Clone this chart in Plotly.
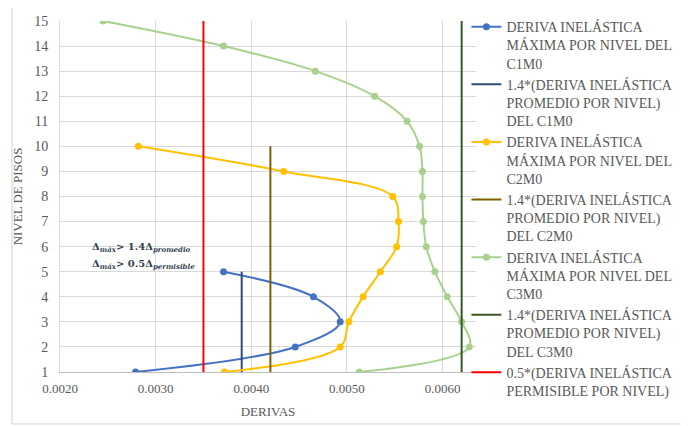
import plotly.graph_objects as go

niveles_c1 = [1, 2, 3, 4, 5]
deriva_c1 = [0.00279, 0.00446, 0.00493, 0.00465, 0.00371]
niveles_c2 = [1, 2, 3, 4, 5, 6, 7, 8, 9, 10]
deriva_c2 = [0.00372, 0.00493, 0.00502, 0.00517, 0.00535, 0.00552, 0.00554, 0.00548, 0.00434, 0.00282]
niveles_c3 = [1, 2, 3, 4, 5, 6, 7, 8, 9, 10, 11, 12, 13, 14, 15]
deriva_c3 = [0.00513, 0.00628, 0.00620, 0.00605, 0.00592, 0.00583, 0.00580, 0.00579, 0.00579, 0.00576,
             0.00563, 0.00529, 0.00467, 0.00371, 0.00245]

prom_c1 = 0.0039
prom_c2 = 0.0042
prom_c3 = 0.0062
permisible_05 = 0.0035

nombres = [
    "DERIVA INELÁSTICA<br>MÁXIMA POR NIVEL DEL<br>C1M0",
    "1.4*(DERIVA INELÁSTICA<br>PROMEDIO POR NIVEL)<br>DEL C1M0",
    "DERIVA INELÁSTICA<br>MÁXIMA POR NIVEL DEL<br>C2M0",
    "1.4*(DERIVA INELÁSTICA<br>PROMEDIO POR NIVEL)<br>DEL C2M0",
    "DERIVA INELÁSTICA<br>MÁXIMA POR NIVEL DEL<br>C3M0",
    "1.4*(DERIVA INELÁSTICA<br>PROMEDIO POR NIVEL)<br>DEL C3M0",
    "0.5*(DERIVA INELÁSTICA<br>PERMISIBLE POR NIVEL)",
]

SERIF = "Liberation Serif"

fig = go.Figure()

def curva(x, y, color, name, g):
    fig.add_trace(go.Scatter(x=x, y=y, mode="lines+markers", name=name, legendgroup=g,
                             line=dict(color=color, width=2, shape="spline", smoothing=1.0),
                             marker=dict(color=color, size=7)))

def vertical(v, ymax, color, name, g):
    fig.add_trace(go.Scatter(x=[v, v], y=[min(niveles_c1), ymax], mode="lines", name=name,
                             legendgroup=g, line=dict(color=color, width=2)))

curva(deriva_c1, niveles_c1, "#4472C4", nombres[0], "a")
vertical(prom_c1, max(niveles_c1), "#2F4B7C", nombres[1], "b")
curva(deriva_c2, niveles_c2, "#FFC000", nombres[2], "c")
vertical(prom_c2, max(niveles_c2), "#7F6000", nombres[3], "d")
curva(deriva_c3, niveles_c3, "#A9D18E", nombres[4], "e")
vertical(prom_c3, max(niveles_c3), "#385723", nombres[5], "f")
vertical(permisible_05, max(niveles_c3), "#FF0000", nombres[6], "g")

fig.update_layout(
    template="none",
    width=689, height=426,
    margin=dict(l=52, r=221, t=13, b=62, autoexpand=False),
    paper_bgcolor="white", plot_bgcolor="white",
    font=dict(family=SERIF, size=14, color="#595959"),
    xaxis=dict(range=[0.002, 0.00635], dtick=0.001, tickformat=".4f", tick0=0.002,
               showgrid=True, gridcolor="#D9D9D9", gridwidth=1, automargin=False,
               showline=True, linecolor="#BFBFBF", linewidth=1, zeroline=False,
               tickfont=dict(family=SERIF, size=13, color="#595959"), ticks="", ticklabelstandoff=4,
               title=dict(text="DERIVAS", font=dict(family=SERIF, size=13, color="#595959"),
                          standoff=12)),
    yaxis=dict(range=[1, 15], dtick=1, showgrid=True, gridcolor="#D9D9D9", gridwidth=1,
               automargin=False,
               showline=True, linecolor="#D9D9D9", zeroline=False,
               tickfont=dict(family=SERIF, size=14, color="#595959"), ticks="", ticklabelstandoff=8,
               title=dict(text="NIVEL DE PISOS", font=dict(family=SERIF, size=13, color="#595959"),
                          standoff=8)),
    legend=dict(x=0.977, y=1.028, xanchor="left", yanchor="top", valign="top",
                font=dict(family=SERIF, size=14, color="#595959"),
                tracegroupgap=0, bgcolor="rgba(0,0,0,0)", borderwidth=0, maxheight=420),
    showlegend=True,
)

fig.add_shape(type="rect", xref="paper", yref="paper", x0=-0.1154, x1=1.495, y0=-0.148, y1=1.044,
              line=dict(color="#D0D0D0", width=1), layer="above")

ann_font = dict(family="DejaVu Serif", size=10, color="#333F50")
fig.add_annotation(x=0.00231, y=5.95, xref="x", yref="y", xanchor="left", showarrow=False,
                   text="<b>Δ<sub><i>máx</i></sub>> 1.4Δ<sub><i>promedio</i></sub></b>", font=ann_font)
fig.add_annotation(x=0.00231, y=5.3, xref="x", yref="y", xanchor="left", showarrow=False,
                   text="<b>Δ<sub><i>máx</i></sub>> 0.5Δ<sub><i>permisible</i></sub></b>", font=ann_font)

fig.write_html("out.html")
